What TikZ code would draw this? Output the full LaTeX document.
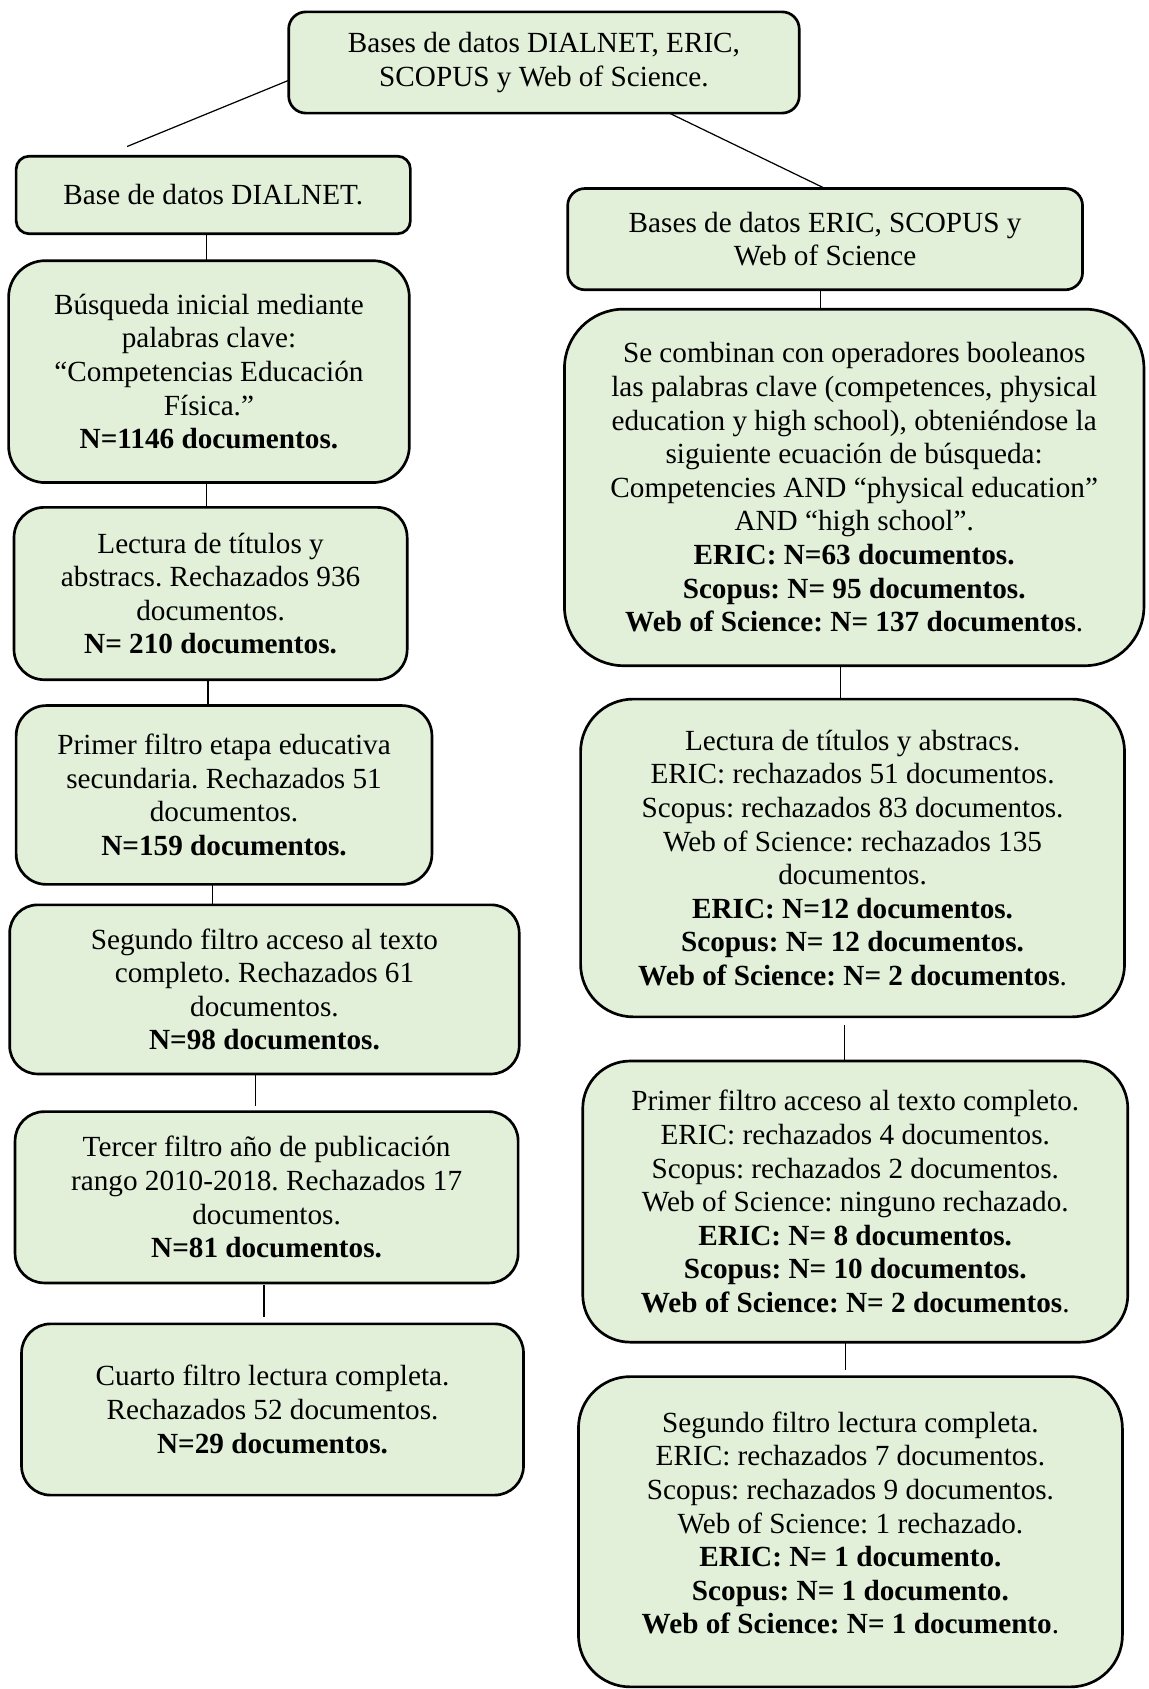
\documentclass[tikz,border=0pt]{standalone}
\usepackage{fontspec}
\setmainfont{Liberation Serif}
\usepackage{tikz}
\definecolor{verdeclaro}{HTML}{E2EFD9}
\newcommand{\pxu}{0.4425pt}
\frenchspacing

\begin{document}
\begin{tikzpicture}[x=\pxu,y=-\pxu,
    caja/.style n args={3}{draw,line width=1.1pt,fill=verdeclaro,align=center,
        inner sep=0pt,outer sep=0pt,font=\fontsize{12}{13.8}\selectfont,
        minimum width=#1*\pxu,minimum height=#2*\pxu,rounded corners=#3*\pxu},
    enlace/.style={draw,line width=0.5pt}]
            \useasboundingbox (0,0) rectangle (1066,1568);
            % bloque superior
            \node[caja={474}{94}{16}] (bases) at (505,58) {Bases de datos DIALNET, ERIC,\\ SCOPUS y Web of Science.};
            \coordinate (izq) at (118,136);
            % columna izquierda: DIALNET
            \node[caja={366}{72}{12}] (dialnet) at (198,181) {Base de datos DIALNET.};
            \node[caja={372}{206}{34}] (busqueda) at (194,345) {Búsqueda inicial mediante\\ palabras clave:\\ “Competencias Educación\\ Física.”\\ \textbf{N=1146 documentos.}};
            \node[caja={365}{160}{28}] (lecturaL) at (195.5,551) {Lectura de títulos y\\ abstracs. Rechazados 936\\ documentos.\\ \textbf{N= 210 documentos.}};
            \node[caja={386}{166}{28}] (primerL) at (208,738) {Primer filtro etapa educativa\\ secundaria. Rechazados 51\\ documentos.\\ \textbf{N=159 documentos.}};
            \node[caja={473}{157}{26}] (segundoL) at (245.5,918.5) {Segundo filtro acceso al texto\\ completo. Rechazados 61\\ documentos.\\ \textbf{N=98 documentos.}};
            \node[caja={467}{159}{27}] (tercerL) at (247.5,1111.5) {Tercer filtro año de publicación\\ rango 2010-2018. Rechazados 17\\ documentos.\\ \textbf{N=81 documentos.}};
            \node[caja={466}{159}{27}] (cuartoL) at (253,1308.5) {Cuarto filtro lectura completa.\\ Rechazados 52 documentos.\\ \textbf{N=29 documentos.}};
            % columna derecha: ERIC, SCOPUS y WoS
            \node[caja={478}{94}{16}] (eric) at (766,222) {Bases de datos ERIC, SCOPUS y\\ Web of Science};
            \node[caja={538}{331}{55}] (combinan) at (793,452.5) {Se combinan con operadores booleanos\\ las palabras clave (competences, physical\\ education y high school), obteniéndose la\\ siguiente ecuación de búsqueda:\\ Competencies AND “physical education”\\ AND “high school”.\\ \textbf{ERIC: N=63 documentos.}\\ \textbf{Scopus: N= 95 documentos.}\\ \textbf{Web of Science: N= 137 documentos}.};
            \node[caja={505}{295}{49}] (lecturaR) at (791.5,796.5) {Lectura de títulos y abstracs.\\ ERIC: rechazados 51 documentos.\\ Scopus: rechazados 83 documentos.\\ Web of Science: rechazados 135\\ documentos.\\ \textbf{ERIC: N=12 documentos.}\\ \textbf{Scopus: N= 12 documentos.}\\ \textbf{Web of Science: N= 2 documentos}.};
            \node[caja={506}{261}{44}] (primerR) at (794,1115.5) {Primer filtro acceso al texto completo.\\ ERIC: rechazados 4 documentos.\\ Scopus: rechazados 2 documentos.\\ Web of Science: ninguno rechazado.\\ \textbf{ERIC: N= 8 documentos.}\\ \textbf{Scopus: N= 10 documentos.}\\ \textbf{Web of Science: N= 2 documentos}.};
            \node[caja={505}{288}{48},text depth=7.3pt] (segundoR) at (789.5,1422) {Segundo filtro lectura completa.\\ ERIC: rechazados 7 documentos.\\ Scopus: rechazados 9 documentos.\\ Web of Science: 1 rechazado.\\ \textbf{ERIC: N= 1 documento.}\\ \textbf{Scopus: N= 1 documento.}\\ \textbf{Web of Science: N= 1 documento}.};
            % lineas
            \draw[enlace] (bases.184) -- (izq);
            \draw[enlace] (bases.-22) -- (eric.north);
            \draw[enlace] (dialnet.south -| 192,0) -- (busqueda.north -| 192,0);
            \draw[enlace] (busqueda.south -| 192,0) -- (lecturaL.north -| 192,0);
            \draw[enlace] (lecturaL.south -| 193,0) -- (primerL.north -| 193,0);
            \draw[enlace] (primerL.south -| 197,0) -- (segundoL.north -| 197,0);
            \draw[enlace,shorten >=2.2pt] (segundoL.south -| 237,0) -- (tercerL.north -| 237,0);
            \draw[enlace,shorten <=0.8pt,shorten >=3pt] (tercerL.south -| 245,0) -- (cuartoL.north -| 245,0);
            \draw[enlace] (eric.south -| 762,0) -- (combinan.north -| 762,0);
            \draw[enlace] (combinan.south -| 780,0) -- (lecturaR.north -| 780,0);
            \draw[enlace,shorten <=3.5pt] (lecturaR.south -| 784,0) -- (primerR.north -| 784,0);
            \draw[enlace,shorten >=2.7pt] (primerR.south -| 785,0) -- (segundoR.north -| 785,0);
        \end{tikzpicture}
\end{document}
